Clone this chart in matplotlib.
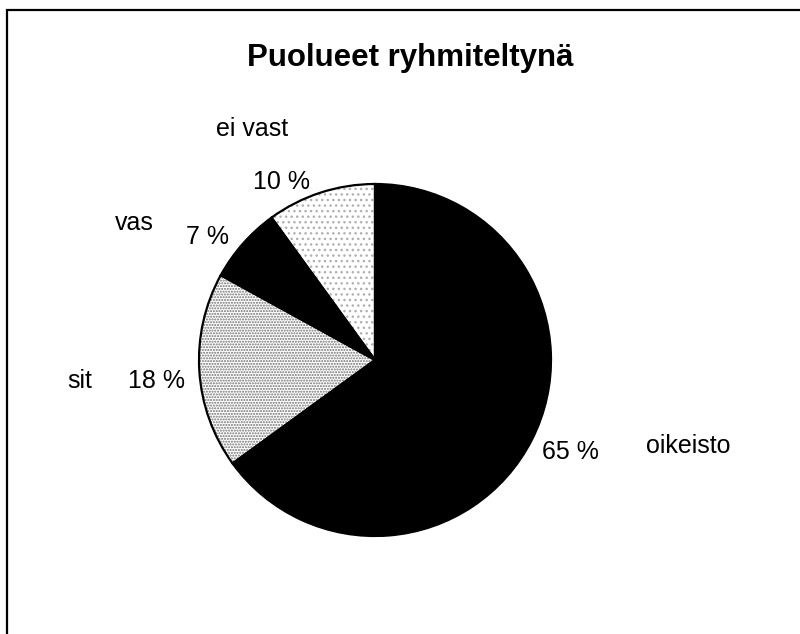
import matplotlib
matplotlib.use("Agg")
import matplotlib.pyplot as plt
from matplotlib.patches import Rectangle

plt.rcParams['font.family'] = ['Liberation Sans', 'DejaVu Sans']

title = "Puolueet ryhmiteltynä"
categories = ["oikeisto", "sit", "vas", "ei vast"]
values = [65, 18, 7, 10]
pct_labels = ["65 %", "18 %", "7 %", "10 %"]

face_colors = ["black", "white", "black", "white"]
hatches = [None, "......", None, "..."]
hatch_colors = ["black", "#707070", "black", "#b0b0b0"]

# label positions (data coords, pie radius = 1)
cat_pos = [(1.78, -0.49), (-1.68, -0.12), (-1.37, 0.78), (-0.70, 1.31)]
pct_pos = [(1.11, -0.52), (-1.24, -0.12), (-0.95, 0.70), (-0.53, 1.01)]

W, H = 800, 634
fig = plt.figure(figsize=(W / 100, H / 100), dpi=100)

cx, cy, r = 375, 360, 176
ax = fig.add_axes([(cx - r) / W, (H - cy - r) / H, 2 * r / W, 2 * r / H])
ax.axis("off")

# textured fill layer
wedges, _ = ax.pie(values, startangle=90, counterclock=False, radius=1,
                   colors=face_colors,
                   wedgeprops=dict(linewidth=0))
for w, h, hc in zip(wedges, hatches, hatch_colors):
    if h:
        w.set_hatch(h)
        w.set_edgecolor(hc)
        w.set_linewidth(0)
# outline layer
ax.pie(values, startangle=90, counterclock=False, radius=1,
       colors=["none"] * len(values),
       wedgeprops=dict(linewidth=1.6, edgecolor="black", fill=False))
ax.set_xlim(-1, 1)
ax.set_ylim(-1, 1)

for name, (x, y) in zip(categories, cat_pos):
    ax.text(x, y, name, ha="center", va="center", fontsize=18, clip_on=False)
for lab, (x, y) in zip(pct_labels, pct_pos):
    ax.text(x, y, lab, ha="center", va="center", fontsize=18, clip_on=False)

fig.text(410 / W, 1 - 58 / H, title, ha="center", va="center",
         fontsize=22.5, fontweight="bold")

fig.patches.append(Rectangle((7 / W, -0.05), 1.2, (1 - 10 / H) + 0.05,
                             transform=fig.transFigure, fill=False,
                             edgecolor="black", linewidth=1.6))

fig.savefig("out.png", dpi=100)
